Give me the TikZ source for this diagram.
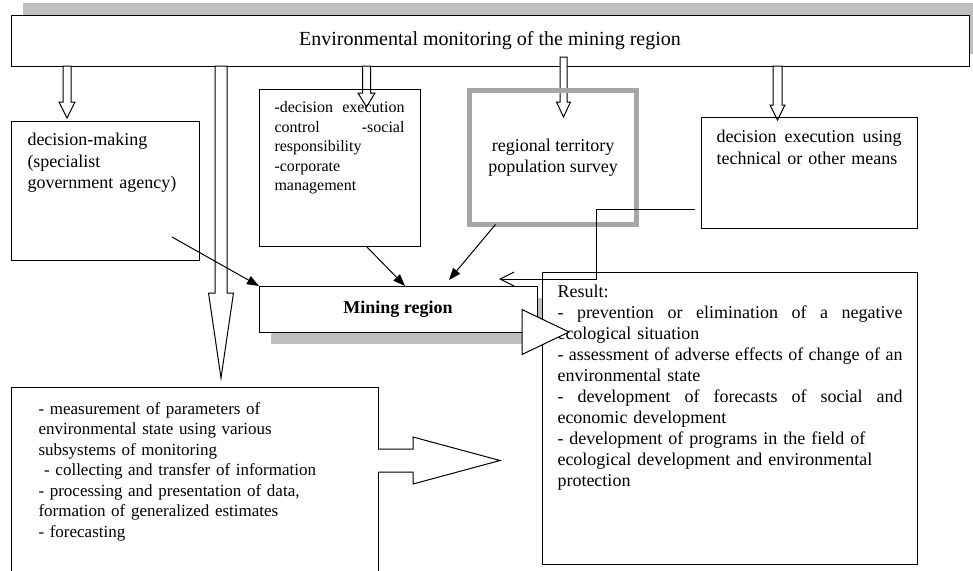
\documentclass[tikz,border=0pt]{standalone}
\usepackage{fontspec}
\setmainfont{Liberation Serif}
\usetikzlibrary{positioning}
\usetikzlibrary{shapes,arrows.meta,shadows}

\tikzset{
  pics/downarrow/.style n args={4}{code={
    \draw[fill=white] (-#1,0) -- (-#1,#2) -- (-#3,#2) -- (0,#2+#4) -- (#3,#2) -- (#1,#2) -- (#1,0) -- cycle;
  }},
  pics/rightarrow/.style n args={4}{code={
    \draw[fill=white] (0,-#1) -- (#2,-#1) -- (#2,-#3) -- (#2+#4,0) -- (#2,#3) -- (#2,#1) -- (0,#1);
  }},
}
\newcommand{\jsp}{\hskip 3pt plus 1fill\relax}

\begin{document}
\begin{tikzpicture}[x=1pt, y=-1pt, line width=1pt,
	box/.style={draw, anchor=north west, outer sep=0pt, inner sep=0pt},
	txt/.style={inner sep=0pt, align=left, font=\fontsize{18}{21.3}\selectfont},
	conn/.style={draw, -{Triangle[length=12pt,width=9pt]}}]
	\useasboundingbox (0,0) rectangle (973,570);

	\node[box, fill=white, minimum width=958pt, minimum height=51pt, drop shadow={shadow xshift=12pt, shadow yshift=12pt, fill=black!25, opacity=1}, font=\fontsize{20}{24}\selectfont] (mon) at (11,15) {Environmental monitoring of the mining region};

	% hollow arrows from the top box
	\pic at ([xshift=56pt]mon.south west) {downarrow={4}{36}{8}{16}};
	\pic at ([xshift=210pt]mon.south west) {downarrow={6}{227}{12.5}{85}};
	\pic at ([xshift=355.5pt]mon.south west) {downarrow={4}{27}{8.5}{14}};
	\pic at ([shift={(552.5,-9)}]mon.south west) {downarrow={3.5}{45}{7}{15}};
	\pic at ([xshift=766.5pt]mon.south west) {downarrow={4.5}{39}{7.5}{15}};

	\node[box, minimum width=188pt, minimum height=139pt] (dm) at (11,121) {};
	\node[box, minimum width=161pt, minimum height=157pt] (ctrl) at (259,89) {};
	\node[box, draw=black!35, line width=5pt, minimum width=167pt, minimum height=134pt, align=center, font=\fontsize{18}{21}\selectfont] (survey) at (469.5,90.5) {regional territory\\ population survey};
	\node[box, minimum width=216pt, minimum height=111pt] (exec) at (701,117) {};
	\node[box, fill=white, minimum width=278pt, minimum height=46pt, drop shadow={shadow xshift=12pt, shadow yshift=-12pt, fill=black!25, opacity=1}, font=\bfseries\fontsize{18}{21}\selectfont] (mr) at (259,286) {Mining region};
	\node[box, fill=white, minimum width=375pt, minimum height=292pt] (res) at (542,272) {};
	\node[box, minimum width=367pt, minimum height=200pt] (meas) at (11,387) {};

	\node[txt, text width=170pt, below right=12pt and 16pt of dm.north west] (dmtext) {decision-making\\ (specialist\\ government agency)};
	\node[txt, text width=130pt, font=\fontsize{16}{19.5}\selectfont, below right=12pt and 15pt of ctrl.north west] (ctrltext) {-decision\jsp execution\\ control\jsp -social\\ responsibility\\ -corporate\\ management};
	\node[txt, text width=185pt, below right=13pt and 15pt of exec.north west] (exectext) {decision\jsp execution\jsp using\\ technical or other means};
	\node[txt, text width=345pt, font=\fontsize{18}{20.9}\selectfont, below right=13pt and 15pt of res.north west] (restext) {Result:\\
		-\jsp prevention\jsp or\jsp elimination\jsp of\jsp a\jsp negative\\
		ecological situation\\
		-\jsp assessment\jsp of\jsp adverse\jsp effects\jsp of\jsp change\jsp of\jsp an\\
		environmental state\\
		-\jsp development\jsp of\jsp forecasts\jsp of\jsp social\jsp and\\
		economic development\\
		- development of programs in the field of\\
		ecological development and environmental\\
		protection};
	\node[txt, text width=340pt, font=\fontsize{17}{20.5}\selectfont, below right=15pt and 27pt of meas.north west] (meastext) {- measurement of parameters of\\
		environmental state using various\\
		subsystems of monitoring\\
		\ - collecting and transfer of information\\
		- processing and presentation of data,\\
		formation of generalized estimates\\
		- forecasting};

	\pic at ([xshift=-15pt]mr.south east) {rightarrow={0}{0}{22.5}{47}};
	\pic at ([shift={(0,73.5)}]meas.north east) {rightarrow={11.5}{35}{23.5}{87}};

	\draw[conn] ([shift={(-27,-23)}]dm.south east) -- (mr.north west);
	\draw[conn] ([xshift=26.5pt]ctrl.south) -- ([xshift=7pt]mr.north);
	\draw[conn] ([xshift=26pt]survey.south west) -- ([shift={(-88,-6)}]mr.north east);
	\coordinate (back) at ([shift={(-38,-7)}]mr.north east);
	\draw[-{Straight Barb[length=14pt,width=14pt]}] ([shift={(-6,-19)}]exec.south west) -| ([xshift=97pt]back) -- (back);
\end{tikzpicture}
\end{document}
